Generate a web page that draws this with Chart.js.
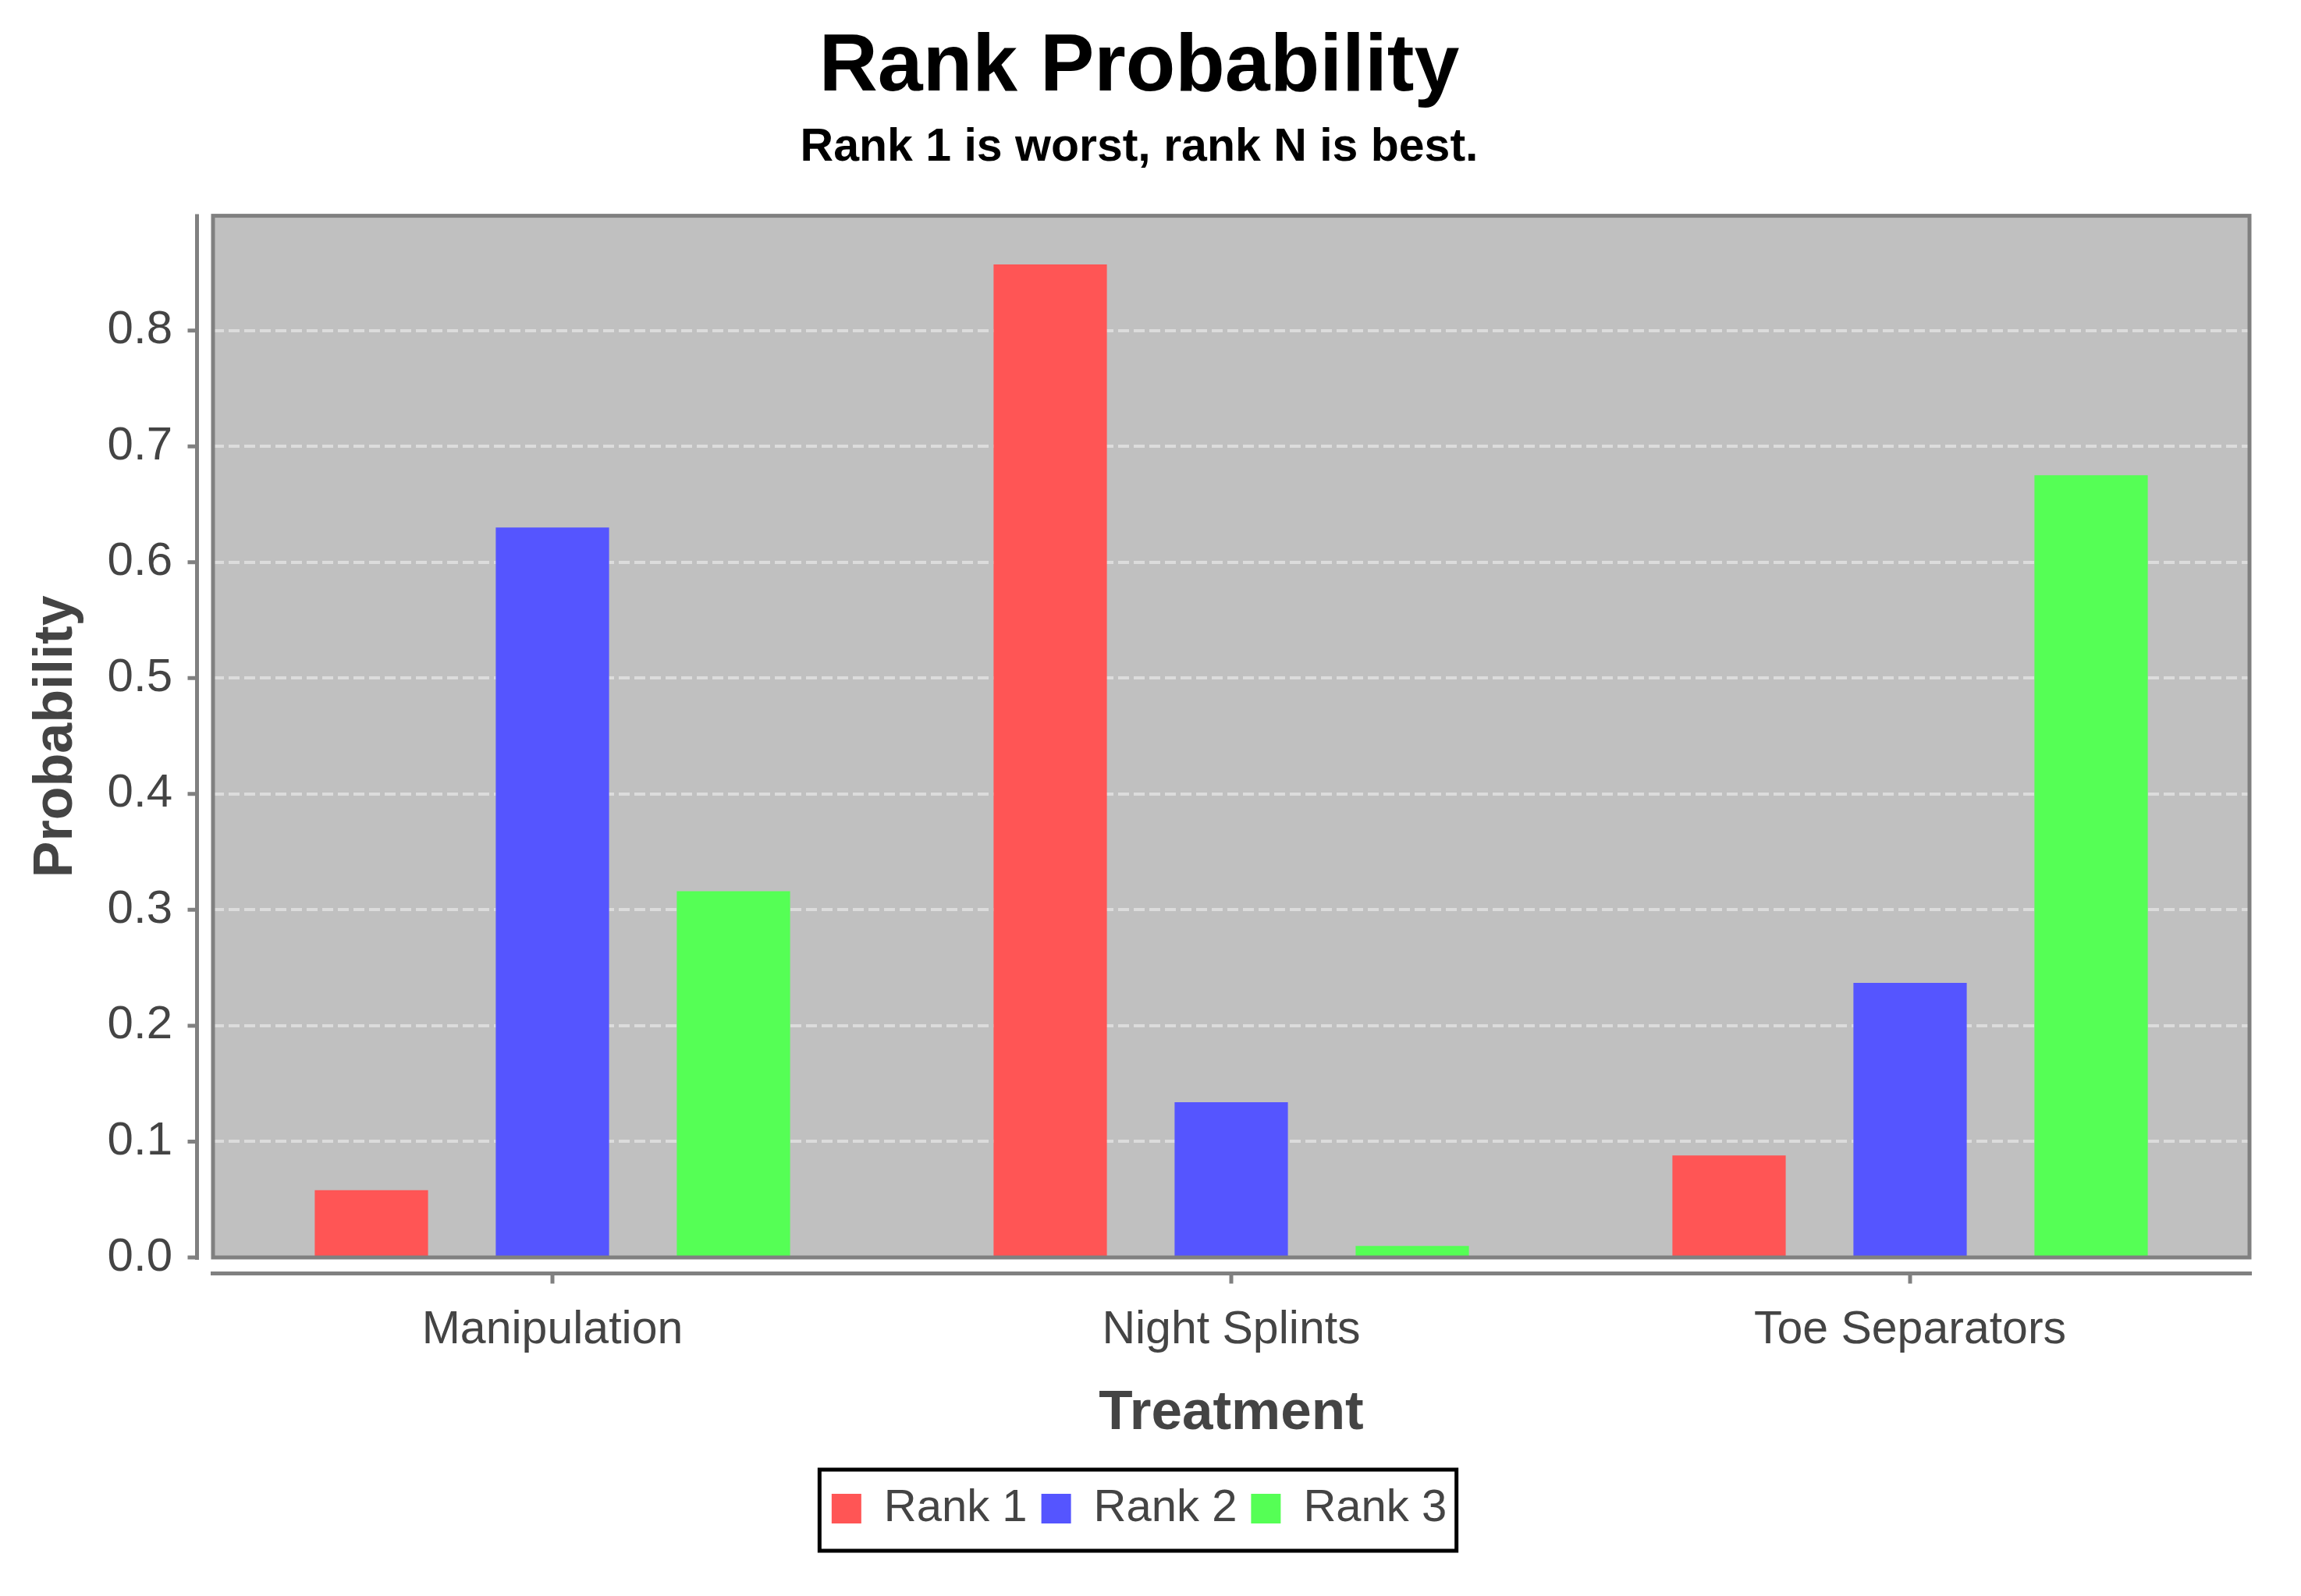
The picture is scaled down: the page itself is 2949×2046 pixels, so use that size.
<!DOCTYPE html>
<html>
<head>
<meta charset="utf-8">
<script src="https://cdn.jsdelivr.net/npm/chart.js@4.4.1/dist/chart.umd.min.js"></script>
<style>
  body { margin: 0; background: #fff; }
  canvas { display: block; }
</style>
</head>
<body>
<canvas id="chart" width="2949" height="2046" style="width:2949px;height:2046px"></canvas>
<script>
const categories = ['Manipulation', 'Night Splints', 'Toe Separators'];
const seriesNames = ['Rank 1', 'Rank 2', 'Rank 3'];
const rank1 = [0.058, 0.857, 0.088];
const rank2 = [0.630, 0.134, 0.237];
const rank3 = [0.316, 0.010, 0.675];
const yMax = 0.899;
const yStep = 0.1;

const seriesColors = ['#FF5555', '#5555FF', '#55FF55'];
const axisGray = '#808080';
const textGray = '#444444';

Chart.defaults.font.family = "'Liberation Sans', Arial, sans-serif";

// plot background, border, offset axis lines and tick marks (JFreeChart look)
const plotFrame = {
    id: 'plotFrame',
    beforeDraw(chart) {
        const { ctx, chartArea: a } = chart;
        ctx.save();
        ctx.fillStyle = '#C0C0C0';
        ctx.fillRect(a.left, a.top, a.right - a.left, a.bottom - a.top);
        ctx.restore();
    },
    afterDatasetsDraw(chart) {
        const { ctx, chartArea: a } = chart;
        const xs = chart.scales.x;
        const ys = chart.scales.y;
        ctx.save();
        ctx.strokeStyle = axisGray;
        ctx.lineWidth = 5;
        ctx.strokeRect(a.left, a.top, a.right - a.left, a.bottom - a.top);

        // y axis line, set off to the left
        const yAxisX = a.left - 20.5;
        ctx.beginPath();
        ctx.moveTo(yAxisX, a.top - 2);
        ctx.lineTo(yAxisX, a.bottom + 3);
        ys.ticks.forEach((t, i) => {
            const py = ys.getPixelForTick(i);
            ctx.moveTo(yAxisX, py);
            ctx.lineTo(yAxisX - 12, py);
        });
        ctx.stroke();

        // x axis line, set off below
        const xAxisY = a.bottom + 20.5;
        ctx.beginPath();
        ctx.moveTo(a.left - 3, xAxisY);
        ctx.lineTo(a.right + 3, xAxisY);
        ctx.stroke();
        ctx.beginPath();
        xs.ticks.forEach((t, i) => {
            const px = xs.getPixelForTick(i);
            ctx.moveTo(px, xAxisY);
            ctx.lineTo(px, xAxisY + 13);
        });
        ctx.stroke();
        ctx.restore();
    }
};

// black frame round the legend items
const legendFrame = {
    id: 'legendFrame',
    afterDraw(chart) {
        const boxes = chart.legend && chart.legend.legendHitBoxes;
        if (!boxes || !boxes.length) return;
        const left = Math.min(...boxes.map(b => b.left));
        const right = Math.max(...boxes.map(b => b.left + b.width));
        const mid = boxes[0].top + boxes[0].height / 2;
        const ctx = chart.ctx;
        ctx.save();
        ctx.strokeStyle = '#000000';
        ctx.lineWidth = 5;
        ctx.strokeRect(left - 15.5, mid - 50, right - left + 28, 104);
        ctx.restore();
    }
};

const datasets = [rank1, rank2, rank3].map((values, i) => ({
    label: seriesNames[i],
    data: values,
    backgroundColor: seriesColors[i],
    borderWidth: 0,
    categoryPercentage: 0.8,
    barPercentage: 0.626
}));

new Chart(document.getElementById('chart'), {
    type: 'bar',
    data: { labels: categories, datasets },
    options: {
        responsive: false,
        animation: false,
        devicePixelRatio: 1,
        layout: { padding: { left: 0, right: 29, top: 0, bottom: 73 } },
        plugins: {
            title: {
                display: true,
                text: 'Rank Probability',
                color: '#000000',
                font: { size: 104, weight: 'bold' },
                padding: { top: 25, bottom: 5 }
            },
            subtitle: {
                display: true,
                text: 'Rank 1 is worst, rank N is best.',
                color: '#000000',
                font: { size: 59, weight: 'bold' },
                padding: { top: 0, bottom: 51 }
            },
            legend: {
                position: 'bottom',
                labels: {
                    color: textGray,
                    font: { size: 58 },
                    boxWidth: 38,
                    boxHeight: 38,
                    padding: 18
                }
            },
            tooltip: { enabled: false }
        },
        scales: {
            x: {
                grid: { display: false },
                border: { display: false },
                ticks: { color: textGray, font: { size: 59 }, padding: 50 },
                title: {
                    display: true,
                    text: 'Treatment',
                    color: textGray,
                    font: { size: 71, weight: 'bold' },
                    padding: { top: 0, bottom: 32 }
                },
                afterFit(scale) { scale.height = 275; }
            },
            y: {
                min: 0,
                max: yMax,
                grid: { color: '#DCDCDC', lineWidth: 4, drawTicks: false },
                border: { display: false, dash: [14, 6] },
                ticks: {
                    stepSize: yStep,
                    includeBounds: false,
                    color: textGray,
                    font: { size: 60 },
                    padding: 52,
                    callback: v => v.toFixed(1)
                },
                title: {
                    display: true,
                    text: 'Probability',
                    color: textGray,
                    font: { size: 70, weight: 'bold' },
                    padding: { top: 31, bottom: 0 }
                },
                afterFit(scale) { scale.width = 273; }
            },
            yRight: {
                position: 'right',
                grid: { display: false },
                border: { display: false },
                ticks: { display: false },
                afterFit(scale) { scale.width = 37; }
            }
        }
    },
    plugins: [plotFrame, legendFrame]
});
</script>
</body>
</html>
